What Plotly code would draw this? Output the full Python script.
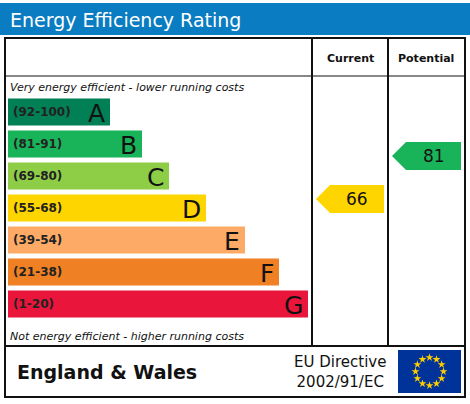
import math
import plotly.graph_objects as go

bands = ["A", "B", "C", "D", "E", "F", "G"]
ranges = ["(92-100)", "(81-91)", "(69-80)", "(55-68)", "(39-54)", "(21-38)", "(1-20)"]
lows = [92, 81, 69, 55, 39, 21, 1]
colors = ["#008054", "#19b459", "#8dce46", "#ffd500", "#fcaa65", "#ef8023", "#e9153b"]
bar_ends = [110, 142, 169, 206, 245, 279, 308]
current = 66
potential = 81

x0 = 8
centers = [112 + 32 * i for i in range(len(bands))]

fig = go.Figure()
fig.add_trace(go.Bar(
    y=centers, x=[e - x0 for e in bar_ends], base=x0, orientation="h",
    width=27, marker=dict(color=colors, line_width=0), hoverinfo="skip",
))
for c, r, b, e in zip(centers, ranges, bands, bar_ends):
    fig.add_annotation(x=x0 + 3, y=c, text="<b>%s</b>" % r, showarrow=False, xanchor="left",
                       font=dict(size=12, color="#222", family="Verdana, DejaVu Sans"))
    fig.add_annotation(x=e - 3, y=c + 1, text=b, showarrow=False, xanchor="right",
                       font=dict(size=25, color="#111", family="Verdana, DejaVu Sans"))


def band_of(v):
    for i, lo in enumerate(lows):
        if v >= lo:
            return i
    return len(lows) - 1


def arrow(v, xl, xr, yshift):
    i = band_of(v)
    cy = centers[i] + yshift
    h = 14
    path = "M %d %d L %d %d L %d %d L %d %d L %d %d Z" % (
        xl, cy, xl + 14, cy - h, xr, cy - h, xr, cy + h, xl + 14, cy + h)
    fig.add_shape(type="path", path=path, fillcolor=colors[i], line_width=0)
    fig.add_annotation(x=(xl + xr) / 2 + 7, y=cy, text=str(v), showarrow=False,
                       font=dict(size=17, color="#111", family="Verdana, DejaVu Sans"))


arrow(current, 316, 384, -9)
arrow(potential, 392, 461, 12)

# title strip
fig.add_shape(type="rect", x0=0, x1=470, y0=3, y1=35, fillcolor="#0a7cc1", line_width=0)
fig.add_annotation(x=8, y=20, text="Energy Efficiency Rating", showarrow=False, xanchor="left",
                   font=dict(size=19, color="white", family="Verdana, DejaVu Sans"))
# frame
line = dict(color="#111", width=2)
fig.add_shape(type="rect", x0=5, x1=465, y0=38, y1=397, line=line)
fig.add_shape(type="line", x0=5, x1=465, y0=346, y1=346, line=line)
fig.add_shape(type="line", x0=5, x1=465, y0=76, y1=76, line=dict(color="#111", width=1))
fig.add_shape(type="line", x0=312, x1=312, y0=38, y1=346, line=line)
fig.add_shape(type="line", x0=388, x1=388, y0=38, y1=346, line=line)
fig.add_annotation(x=350, y=58, text="<b>Current</b>", showarrow=False,
                   font=dict(size=11, color="#111", family="Verdana, DejaVu Sans"))
fig.add_annotation(x=426, y=58, text="<b>Potential</b>", showarrow=False,
                   font=dict(size=11, color="#111", family="Verdana, DejaVu Sans"))
fig.add_annotation(x=8, y=87, text="<i>Very energy efficient - lower running costs</i>", showarrow=False,
                   xanchor="left", font=dict(size=11, color="#111", family="Verdana, DejaVu Sans"))
fig.add_annotation(x=8, y=336, text="<i>Not energy efficient - higher running costs</i>", showarrow=False,
                   xanchor="left", font=dict(size=11, color="#111", family="Verdana, DejaVu Sans"))
fig.add_annotation(x=15, y=372, text="<b>England &amp; Wales</b>", showarrow=False, xanchor="left",
                   font=dict(size=19, color="#111", family="Verdana, DejaVu Sans"))
fig.add_annotation(x=340, y=372, text="EU Directive<br>2002/91/EC", showarrow=False,
                   font=dict(size=15, color="#111", family="Verdana, DejaVu Sans"))
# EU flag
fig.add_shape(type="rect", x0=398, x1=461, y0=350, y1=393, fillcolor="#003399", line_width=0,
              layer="below")
ang = [2 * math.pi * k / 12 for k in range(12)]
fig.add_trace(go.Scatter(
    x=[429.5 + 14 * math.cos(a) for a in ang], y=[371.5 + 14 * math.sin(a) for a in ang],
    mode="markers", marker=dict(symbol="star", size=6, color="#ffcc00"), hoverinfo="skip",
))

fig.update_layout(
    width=470, height=404, margin=dict(l=0, r=0, t=0, b=0), showlegend=False,
    plot_bgcolor="white", paper_bgcolor="white",
    xaxis=dict(range=[0, 470], visible=False, fixedrange=True),
    yaxis=dict(range=[404, 0], visible=False, fixedrange=True),
)
fig.write_html("out.html", config={"displayModeBar": False},
               post_script="document.body.style.margin='0';")
